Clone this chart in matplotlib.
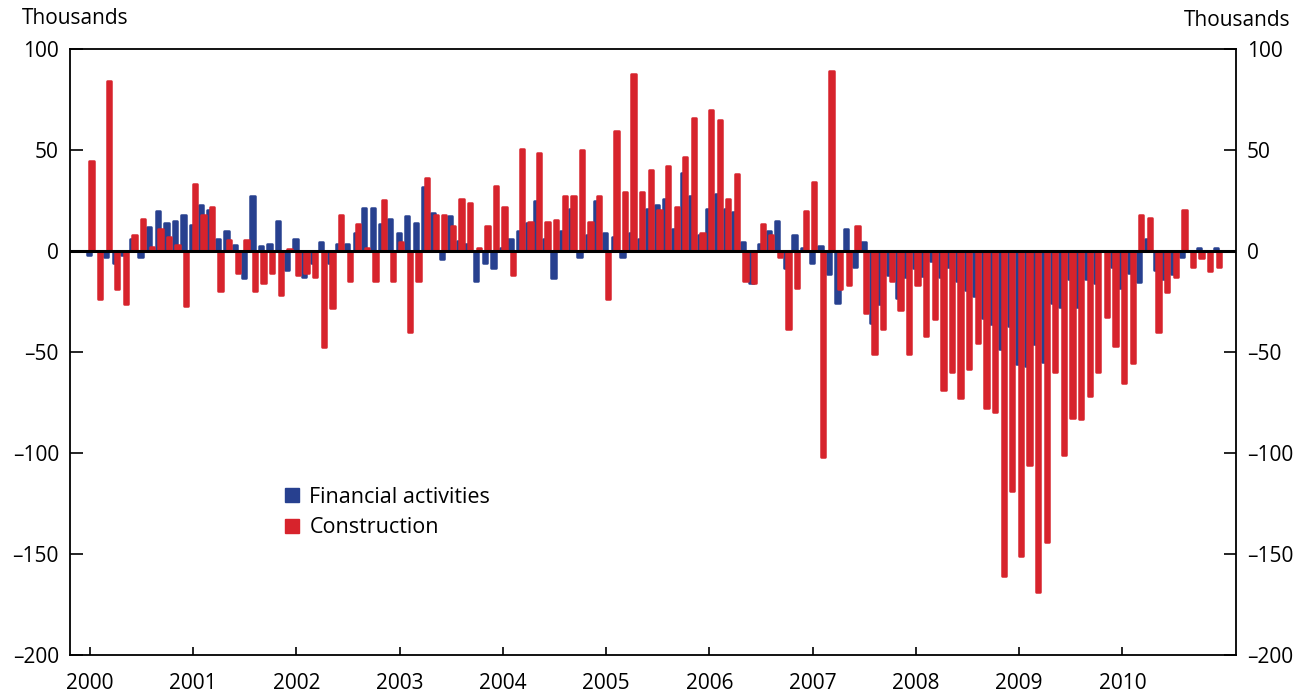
import matplotlib
matplotlib.use("Agg")
import matplotlib.pyplot as plt
from matplotlib.patches import Patch
import numpy as np

plt.rcParams['font.family'] = ['Open Sans', 'DejaVu Sans']

years = ["2000", "2001", "2002", "2003", "2004", "2005", "2006", "2007", "2008", "2009", "2010"]

# Monthly changes, Jan 2000 - Dec 2010 (thousands)
financial = [
    -2, 0, -3, -6, -2, 6, -3, 12, 20, 14, 15, 18,
    13, 23, 20.5, 6, 10, 3, -13.5, 27, 2.6, 3.3, 15, -9.4,
    6, -13, -6, 4.6, -6, 3.3, 3.3, 8.7, 21.5, 21.5, 13.3, 16,
    8.7, 17.4, 14, 31.7, 19, -4, 17.4, 5, 3.4, -14.8, -6, -8.2,
    1.3, 6, 10, 14, 24.6, 6, -13.5, 10, 20.7, -2.8, 8, 24.6,
    8.7, 6.7, -2.8, 8.7, 6, 20.7, 22.8, 25.8, 11, 38.7, 27, 8,
    21, 28, 21, 19.4, 4.6, -15.6, 3.3, 10, 15, -8.2, 8, 1.3,
    -6, 2.6, -11.5, -25.8, 11, -7.7, 4.6, -35.6, -26, -11.8, -23.5, -13,
    -8.5, -12.6, -5, -13, -7.7, -15, -19.2, -22.5, -33.2, -36, -48.4, -37.3,
    -56, -57, -45.8, -55, -25.8, -27.7, -13.8, -27.7, -13.8, -16, 0, -8,
    -18.4, -11, -15.4, 5.7, -9.4, -13.8, -11.5, -2.8, 0, 1.3, 0, 1.3,
]

construction = [
    44.5, -24, 84, -19, -26, 8, 16, 2, 11, 7, 3, -27,
    33, 18, 22, -20, 5.5, -11, 5.5, -20, -15.6, -11, -22, 1,
    -12, -11, -13, -47.6, -28, 18, -15, 13.3, 1.3, -15, 25, -15,
    4.3, -40, -15, 36.3, 18, 18, 12.6, 25.6, 23.8, 1.3, 12.6, 32,
    21.8, -11.8, 50.6, 14.4, 48.6, 14.4, 15.3, 27, 27, 50, 14.4, 27,
    -24, 59.6, 29, 87.8, 29, 40, 20.5, 42, 21.8, 46.5, 66, 9,
    70, 65, 25.6, 38, -15, -16, 13.3, 8, -3, -38.6, -18.4, 19.7,
    34, -102, 89, -19, -17, 12.5, -30.7, -51, -38.6, -15, -29.4, -51,
    -17, -41.9, -33.5, -68.8, -59.8, -72.9, -58.3, -45.5, -77.5, -79.5, -161, -118.9,
    -151, -106, -169, -144, -59.8, -101, -82.8, -83.3, -72, -60, -32.8, -47,
    -65.5, -55.3, 17.7, 16.4, -40, -20.4, -13, 20.2, -8, -3.3, -9.7, -8,
]

yticks = [100, 50, 0, -50, -100, -150, -200]
blue = "#27408f"
red = "#d7232c"

fig = plt.figure(figsize=(13.11, 6.95), dpi=100)
ax = fig.add_axes([70 / 1311, 1 - 655 / 695, (1236 - 70) / 1311, (655 - 49) / 695])

m = np.arange(len(financial))
bw = 0.5
lw = 1.8
ax.bar(m - 0.1, financial, width=bw, color=blue, edgecolor=blue, linewidth=lw,
       joinstyle='round', zorder=2)
ax.bar(m + 0.2, construction, width=bw, color=red, edgecolor=red, linewidth=lw,
       joinstyle='round', zorder=3)

ax.axhline(0, color='black', linewidth=2.2, zorder=4)

ax.set_ylim(-200, 100)
ax.set_xlim(-2.3, 133.2)
ax.set_yticks(yticks)
ax.set_yticklabels([str(v).replace('-', '\u2013') for v in yticks])
ax.set_xticks(np.arange(0, 121, 12))
ax.set_xticklabels(years)

ax.tick_params(axis='y', direction='in', length=9, width=1.2, labelsize=15,
               left=True, right=True, labelleft=True, labelright=True, pad=8)
ax.tick_params(axis='x', direction='in', length=6, width=1.2, labelsize=15, pad=13)
for s in ax.spines.values():
    s.set_linewidth(1.3)

fig.text(22 / 1311, 1 - 18 / 695, "Thousands", fontsize=15, ha='left', va='center')
fig.text(1290 / 1311, 1 - 20 / 695, "Thousands", fontsize=15, ha='right', va='center')

handles = [Patch(facecolor=blue, edgecolor=blue), Patch(facecolor=red, edgecolor=red)]
ax.legend(handles, ["Financial activities", "Construction"], loc='upper left',
          bbox_to_anchor=(276 / 1311, 1 - 478 / 695), bbox_transform=fig.transFigure,
          frameon=False, fontsize=15.5, handlelength=0.65, handleheight=0.65,
          handletextpad=0.5, labelspacing=0.45, borderaxespad=0)

fig.savefig("out.png", dpi=100)
